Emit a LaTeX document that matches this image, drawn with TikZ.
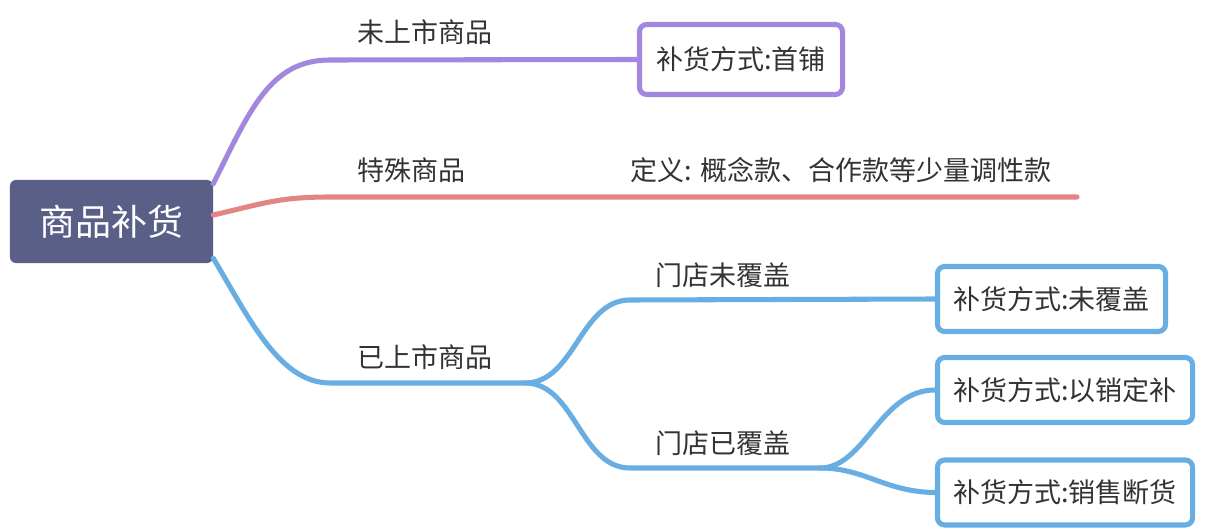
\documentclass[tikz,border=0pt]{standalone}
\usepackage{fontspec}
\setmainfont{Noto Sans CJK SC}
\usepackage{xcolor}
\usepackage{tikz}
\usetikzlibrary{arrows.meta,positioning,calc}

\definecolor{rootfill}{HTML}{5A5F87}
\definecolor{purpleline}{HTML}{A386DE}
\definecolor{redline}{HTML}{E38585}
\definecolor{blueline}{HTML}{68AEE2}
\definecolor{textgray}{HTML}{333333}

\begin{document}
\begin{tikzpicture}[x=0.025cm, y=-0.025cm,
    branch/.style={line width=3.6pt, line cap=round},
    branchtext/.style={font=\fontsize{19.2pt}{23pt}\selectfont, text=textgray, inner sep=0pt},
    rootbox/.style={fill=rootfill, rounded corners=0.15cm, text=white,
      font=\fontsize{25.6pt}{30pt}\selectfont, minimum width=5.075cm, minimum height=2.075cm},
    leafbox/.style={draw=blueline, line width=3.6pt, rounded corners=0.18cm, fill=white,
      text=textgray, font=\fontsize{19.2pt}{23pt}\selectfont, minimum height=1.625cm}]
  \useasboundingbox (0,0) rectangle (1206,532);

  % Root and leaf boxes
  \node[rootbox] (root) at (111.5,221.5) {商品补货};
  \node[leafbox, draw=purpleline, minimum width=5.075cm, minimum height=1.75cm] (shoupu) at (741,59.5) {补货方式:首铺};
  \node[leafbox, minimum width=5.7cm] (weifugai) at (1051.5,299) {补货方式:未覆盖};
  \node[leafbox, minimum width=6.375cm] (yixiao) at (1065,390) {补货方式:以销定补};
  \node[leafbox, minimum width=6.375cm] (duanhuo) at (1065,492.5) {补货方式:销售断货};

  % Branch texts
  \node[branchtext] (weishang) at (425,32) {未上市商品};
  \node[branchtext] (teshu) at (411,170) {特殊商品};
  \node[branchtext] (dingyi) at (841,170) {定义: 概念款、合作款等少量调性款};
  \node[branchtext] (yishang) at (425,357) {已上市商品};
  \node[branchtext] (mdwei) at (723,275) {门店未覆盖};
  \node[branchtext] (mdyi) at (723,443) {门店已覆盖};

  % Branch points
  \coordinate (rp) at ($(root.north east)+(0,4)$);
  \coordinate (rr) at ($(root.east)+(0,-6.5)$);
  \coordinate (rb) at ($(root.south east)+(0,-5)$);
  \coordinate (redend) at (1077,197);
  \coordinate (ysplit) at (525,383);
  \coordinate (msplit) at (820,468);

  % Purple and red branches
  \draw[branch, purpleline] (rp) .. controls (250,110) and (270,60) .. (330,60) -- (shoupu.west);
  \draw[branch, redline] (rr) .. controls (265,203) and (280,197) .. (330,197) -- (redend);

  % Blue branch
  \draw[branch, blueline] (rb) .. controls (250,320) and (280,383) .. (330,383) -- (ysplit);
  \draw[branch, blueline] (ysplit) .. controls (575,383) and (580,300) .. (630,300) -- (weifugai.west);
  \draw[branch, blueline] (ysplit) .. controls (575,383) and (580,468) .. (630,468) -- (msplit);
  \draw[branch, blueline] (msplit) .. controls (865,468) and (880,390) .. (yixiao.west);
  \draw[branch, blueline] (msplit) .. controls (865,468) and (885,492) .. (duanhuo.west);
\end{tikzpicture}
\end{document}
